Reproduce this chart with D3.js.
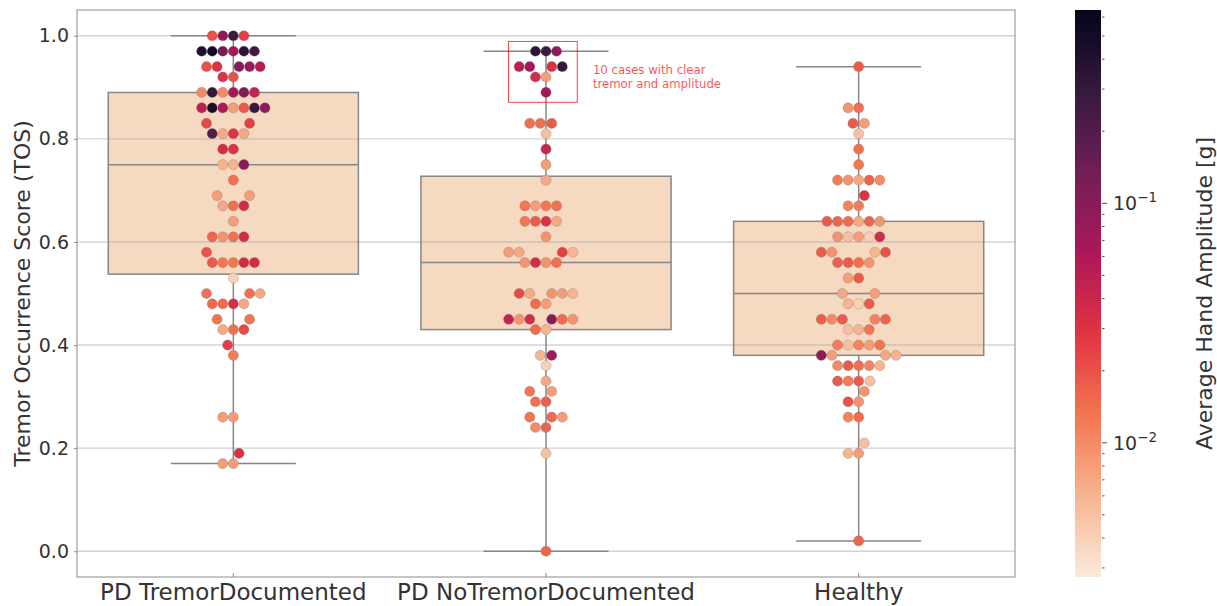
<!DOCTYPE html>
<html>
<head>
<meta charset="utf-8">
<script src="https://cdn.jsdelivr.net/npm/d3@7"></script>
<style>
  body { margin: 0; background: #fff; }
  svg { font-family: "DejaVu Sans", sans-serif; }
</style>
</head>
<body>
<svg id="chart" width="1217" height="606"></svg>
<script>
var categories = ['PD TremorDocumented', 'PD NoTremorDocumented', 'Healthy']

// one entry per TOS level: [TOS, [average hand amplitude of each case, g]]
var tremorRows = [
  [0.17, [0.008, 0.008]],
  [0.19, [0.03]],
  [0.26, [0.008, 0.008]],
  [0.38, [0.012]],
  [0.40, [0.025]],
  [0.43, [0.014, 0.007, 0.022]],
  [0.45, [0.013, 0.013]],
  [0.48, [0.033, 0.015, 0.007, 0.015]],
  [0.50, [0.014, 0.014, 0.007]],
  [0.53, [0.004]],
  [0.56, [0.013, 0.013, 0.035, 0.018, 0.035]],
  [0.58, [0.02]],
  [0.61, [0.014, 0.009, 0.035, 0.016]],
  [0.64, [0.008]],
  [0.67, [0.014, 0.007, 0.035]],
  [0.69, [0.008, 0.008]],
  [0.72, [0.014]],
  [0.75, [0.006, 0.006, 0.1]],
  [0.78, [0.03, 0.035]],
  [0.81, [0.03, 0.007, 0.007, 0.2]],
  [0.83, [0.025, 0.022]],
  [0.86, [0.008, 0.06, 0.018, 0.45, 0.3, 0.05, 0.09]],
  [0.89, [0.07, 0.01, 0.11, 0.3, 0.045, 0.01]],
  [0.92, [0.02, 0.03]],
  [0.94, [0.1, 0.03, 0.08, 0.02, 0.055]],
  [0.97, [0.07, 0.13, 0.35, 0.5, 0.25, 0.4]],
  [1.00, [0.27, 0.09, 0.025, 0.02]]
]

var noTremorRows = [
  [0.00, [0.016]],
  [0.19, [0.005]],
  [0.24, [0.016, 0.01]],
  [0.26, [0.015, 0.013, 0.008]],
  [0.29, [0.017, 0.014]],
  [0.31, [0.008, 0.013]],
  [0.33, [0.007]],
  [0.36, [0.004]],
  [0.38, [0.006, 0.07]],
  [0.43, [0.006, 0.015]],
  [0.45, [0.1, 0.035, 0.015, 0.009, 0.009, 0.045]],
  [0.48, [0.008, 0.015]],
  [0.50, [0.009, 0.007, 0.008, 0.022, 0.006]],
  [0.56, [0.009, 0.035, 0.014, 0.009]],
  [0.58, [0.025, 0.007, 0.006, 0.008]],
  [0.61, [0.009]],
  [0.64, [0.03, 0.018, 0.007, 0.013]],
  [0.67, [0.013, 0.008, 0.014, 0.013]],
  [0.72, [0.007]],
  [0.75, [0.008]],
  [0.78, [0.04]],
  [0.81, [0.005]],
  [0.83, [0.014, 0.018, 0.014]],
  [0.89, [0.07]],
  [0.92, [0.008, 0.035]],
  [0.94, [0.03, 0.065, 0.3, 0.05]],
  [0.97, [0.27, 0.35, 0.09]]
]

var healthyRows = [
  [0.02, [0.016]],
  [0.19, [0.008, 0.006]],
  [0.21, [0.005]],
  [0.26, [0.015, 0.011]],
  [0.29, [0.009, 0.02]],
  [0.31, [0.009]],
  [0.33, [0.018, 0.012, 0.005, 0.018]],
  [0.36, [0.014, 0.018, 0.011, 0.01, 0.006]],
  [0.38, [0.008, 0.007, 0.09, 0.006]],
  [0.40, [0.011, 0.005, 0.008, 0.012, 0.013]],
  [0.43, [0.006, 0.005, 0.013]],
  [0.45, [0.018, 0.011, 0.01, 0.016, 0.017]],
  [0.48, [0.004, 0.006, 0.018]],
  [0.50, [0.007, 0.008]],
  [0.53, [0.018, 0.008]],
  [0.56, [0.014, 0.018, 0.009, 0.017]],
  [0.58, [0.006, 0.009, 0.02, 0.018]],
  [0.61, [0.008, 0.005, 0.004, 0.009, 0.035]],
  [0.64, [0.007, 0.015, 0.016, 0.016, 0.009, 0.018]],
  [0.67, [0.012, 0.011]],
  [0.69, [0.03]],
  [0.72, [0.007, 0.009, 0.016, 0.012, 0.01]],
  [0.75, [0.013]],
  [0.78, [0.014]],
  [0.81, [0.005]],
  [0.83, [0.018, 0.008]],
  [0.86, [0.014, 0.009]],
  [0.94, [0.018]]
]

var yTicks = [0, 0.2, 0.4, 0.6, 0.8, 1.0]
var ampRange = [0.00275, 0.642]   // colour norm limits (log)
// seaborn "rocket", dark -> light
var rocket = ['#03051a', '#35193e', '#701f57', '#ad1759', '#e13342', '#f37651', '#f6b48f', '#faebdd']

var annotation = {cat: 'PD NoTremorDocumented', x0: -0.12, x1: 0.1, y0: 0.871, y1: 0.989,
  textX: 0.15, textY: 0.925, lines: ['10 cases with clear', 'tremor and amplitude']}

var svg = d3.select('#chart')

var x = d3.scaleBand().domain(categories).range([77, 1015])
var y = d3.scaleLinear().domain([-0.05, 1.05]).range([577, 10])
var cmap = d3.piecewise(d3.interpolateRgb, rocket.slice().reverse())
var norm = d3.scaleLog().domain(ampRange).range([0, 1]).clamp(true)
function color(a) { return cmap(norm(a)) }

var groups = [tremorRows, noTremorRows, healthyRows].map(function(rows, i) {
  var pts = []
  rows.forEach(function(r) {
    r[1].forEach(function(a) { pts.push({tos: r[0], amp: a}) })
  })
  var vals = pts.map(function(p) { return p.tos }).sort(d3.ascending)
  var q1 = d3.quantile(vals, 0.25), med = d3.quantile(vals, 0.5), q3 = d3.quantile(vals, 0.75)
  var iqr = q3 - q1
  var lo = d3.min(vals.filter(function(v) { return v >= q1 - 1.5 * iqr }))
  var hi = d3.max(vals.filter(function(v) { return v <= q3 + 1.5 * iqr }))
  return {cat: categories[i], pts: pts, q1: q1, med: med, q3: q3, lo: lo, hi: hi}
})

// beeswarm in the style of seaborn: points placed from low to high TOS,
// each at the candidate closest to the midline that does not overlap
var D = 10.05, yk = 0.82
function beeswarm(pts) {
  var sorted = pts.slice().sort(function(a, b) { return a.tos - b.tos })
  var placed = []
  sorted.forEach(function(p) {
    p.sy = (y(0) - y(p.tos)) * yk
    var nb = []
    for (var j = placed.length - 1; j >= 0; j--) {
      if (p.sy - placed[j].sy < D) nb.unshift(placed[j])
      else break
    }
    var cands = [0], left = true
    nb.forEach(function(q) {
      var dy = p.sy - q.sy
      var off = Math.sqrt(Math.max(D * D - dy * dy, 0)) * 1.05
      if (left) cands.push(q.dx - off, q.dx + off)
      else cands.push(q.dx + off, q.dx - off)
      left = !left
    })
    cands = cands.map(function(c, i) { return [c, i] })
      .sort(function(a, b) { return Math.abs(a[0]) - Math.abs(b[0]) || a[1] - b[1] })
    p.dx = 0
    for (var k = 0; k < cands.length; k++) {
      var c = cands[k][0]
      var ok = nb.every(function(q) {
        return (q.dx - c) * (q.dx - c) + (q.sy - p.sy) * (q.sy - p.sy) >= D * D - 1e-9
      })
      if (ok) { p.dx = c; break }
    }
    placed.push(p)
  })
}
groups.forEach(function(g) { beeswarm(g.pts) })

var bw = x.bandwidth()
var boxW = bw * 0.8
var lineCol = '#878787'

// box fill
svg.append('g').selectAll('rect')
  .data(groups)
  .enter().append('rect')
    .attr('x', function(d) { return x(d.cat) + (bw - boxW) / 2 })
    .attr('y', function(d) { return y(d.q3) })
    .attr('width', boxW)
    .attr('height', function(d) { return y(d.q1) - y(d.q3) })
    .attr('fill', '#f5d9c0')

// grid
svg.append('g').selectAll('line')
  .data(yTicks)
  .enter().append('line')
    .attr('x1', 77).attr('x2', 1015)
    .attr('y1', function(d) { return y(d) }).attr('y2', function(d) { return y(d) })
    .attr('stroke', 'rgba(170,170,170,0.5)')
    .attr('stroke-width', 1.4)

// box outline, median, whiskers, caps
var bx = svg.append('g').attr('fill', 'none').attr('stroke', lineCol).attr('stroke-width', 1.5)
groups.forEach(function(d) {
  var cx = x(d.cat) + bw / 2
  bx.append('rect')
    .attr('x', cx - boxW / 2).attr('y', y(d.q3))
    .attr('width', boxW).attr('height', y(d.q1) - y(d.q3))
  bx.append('line').attr('x1', cx - boxW / 2).attr('x2', cx + boxW / 2)
    .attr('y1', y(d.med)).attr('y2', y(d.med))
  bx.append('line').attr('x1', cx).attr('x2', cx).attr('y1', y(d.q3)).attr('y2', y(d.hi))
  bx.append('line').attr('x1', cx).attr('x2', cx).attr('y1', y(d.q1)).attr('y2', y(d.lo))
  bx.append('line').attr('x1', cx - boxW / 4).attr('x2', cx + boxW / 4).attr('y1', y(d.hi)).attr('y2', y(d.hi))
  bx.append('line').attr('x1', cx - boxW / 4).attr('x2', cx + boxW / 4).attr('y1', y(d.lo)).attr('y2', y(d.lo))
})

// swarm points
groups.forEach(function(d) {
  var cx = x(d.cat) + bw / 2
  svg.append('g').selectAll('circle')
    .data(d.pts)
    .enter().append('circle')
      .attr('cx', function(p) { return cx + p.dx })
      .attr('cy', function(p) { return y(p.tos) })
      .attr('r', 5.1)
      .attr('fill', function(p) { return color(p.amp) })
      .attr('stroke', 'rgba(110,110,110,0.45)')
      .attr('stroke-width', 0.6)
})

// annotation
var acx = x(annotation.cat) + bw / 2
svg.append('rect')
  .attr('x', acx + annotation.x0 * bw)
  .attr('y', y(annotation.y1))
  .attr('width', (annotation.x1 - annotation.x0) * bw)
  .attr('height', y(annotation.y0) - y(annotation.y1))
  .attr('fill', 'none')
  .attr('stroke', 'rgba(255,0,0,0.75)')
  .attr('stroke-width', 1)
svg.append('text')
  .attr('x', acx + annotation.textX * bw)
  .attr('y', y(annotation.textY))
  .attr('font-size', 11.7)
  .attr('fill', 'rgba(255,0,0,0.7)')
  .selectAll('tspan')
  .data(annotation.lines)
  .enter().append('tspan')
    .attr('x', acx + annotation.textX * bw)
    .attr('dy', function(d, i) { return i ? 13.5 : 0 })
    .text(function(d) { return d })

// frame
svg.append('rect')
  .attr('x', 77).attr('y', 10).attr('width', 938).attr('height', 567)
  .attr('fill', 'none').attr('stroke', '#8c8c8c').attr('stroke-width', 1)

// y axis
var yAxis = svg.append('g')
  .attr('transform', 'translate(77,0)')
  .call(d3.axisLeft(y).tickValues(yTicks).tickSize(3).tickPadding(5).tickFormat(d3.format('.1f')))
yAxis.select('.domain').remove()
yAxis.selectAll('line').attr('stroke', '#8c8c8c')
yAxis.selectAll('text').attr('font-size', 19).attr('fill', '#333').attr('font-family', 'DejaVu Sans')

// x axis
var xAxis = svg.append('g')
  .attr('transform', 'translate(0,577)')
  .call(d3.axisBottom(x).tickSize(-4).tickPadding(7))
xAxis.select('.domain').remove()
xAxis.selectAll('line').attr('stroke', '#8c8c8c')
xAxis.selectAll('text').attr('font-size', 23).attr('fill', '#333').attr('font-family', 'DejaVu Sans')

svg.append('text')
  .attr('transform', 'translate(30,293.5) rotate(-90)')
  .attr('text-anchor', 'middle')
  .attr('font-size', 22).attr('fill', '#333')
  .text('Tremor Occurrence Score (TOS)')

// colorbar
var cb = d3.scaleLog().domain(ampRange).range([577, 10])
var grad = svg.append('defs').append('linearGradient')
  .attr('id', 'cbar').attr('x1', 0).attr('y1', 1).attr('x2', 0).attr('y2', 0)
grad.selectAll('stop')
  .data(d3.range(0, 1.0001, 0.02))
  .enter().append('stop')
    .attr('offset', function(t) { return t })
    .attr('stop-color', function(t) { return cmap(t) })
svg.append('rect')
  .attr('x', 1075).attr('y', 10).attr('width', 26).attr('height', 567)
  .attr('fill', 'url(#cbar)')

var cbTicks = cb.ticks()
function isMajor(t) { var l = Math.log10(t); return Math.abs(l - Math.round(l)) < 1e-6 }
svg.append('g').selectAll('line')
  .data(cbTicks)
  .enter().append('line')
    .attr('x1', 1102).attr('x2', function(t) { return isMajor(t) ? 1107 : 1104.5 })
    .attr('y1', function(t) { return cb(t) }).attr('y2', function(t) { return cb(t) })
    .attr('stroke', '#555').attr('stroke-width', 1)

var cbLab = svg.append('g').selectAll('text')
  .data(cbTicks.filter(isMajor))
  .enter().append('text')
    .attr('x', 1113)
    .attr('y', function(t) { return cb(t) + 7 })
    .attr('font-size', 19).attr('fill', '#333')
cbLab.append('tspan').text('10')
cbLab.append('tspan')
  .attr('dy', -8).attr('font-size', 13.5)
  .text(function(t) { return '\u2212' + Math.abs(Math.round(Math.log10(t))) })

svg.append('text')
  .attr('transform', 'translate(1212,293.5) rotate(-90)')
  .attr('text-anchor', 'middle')
  .attr('font-size', 22).attr('fill', '#333')
  .text('Average Hand Amplitude [g]')
</script>
</body>
</html>
